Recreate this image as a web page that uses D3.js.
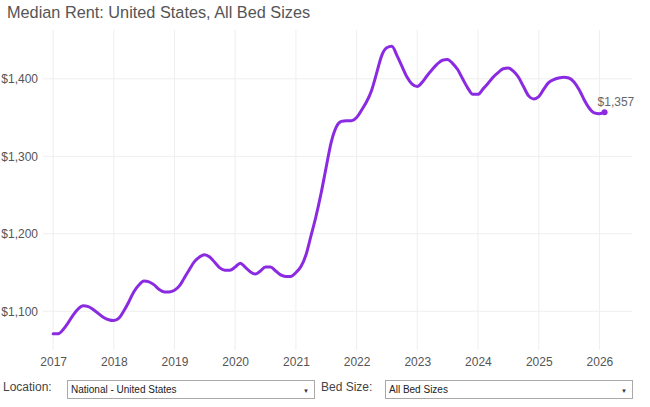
<!DOCTYPE html>
<html>
<head>
  <meta charset="UTF-8">
  <title>Median Rent: United States, All Bed Sizes</title>
  <script src="https://d3js.org/d3.v7.min.js"></script>
  <style>
    body { margin: 0; background: #fff; font-family: "Liberation Sans", Arial, sans-serif; }
    .title { font-size: 16.3px; fill: #555; }
    .tick-label { font-size: 12px; fill: #555; }
    .grid line { stroke: #eeeeee; stroke-width: 1; }
    .ctrl-label { font-size: 12px; fill: #444; }
    .ctrl-text { font-size: 10px; fill: #222; }
  </style>
</head>
<body>
  <div id="chart"></div>
  <script>
    // monthly median rent, Jan 2017 .. Feb 2026
    var startYear = 2017;
    var rent2017 = [1071, 1071, 1076, 1085, 1095, 1103, 1107, 1106, 1102, 1097, 1092, 1089];
    var rent2018 = [1088, 1091, 1100, 1112, 1125, 1134, 1139, 1138, 1134, 1128, 1125, 1125];
    var rent2019 = [1127, 1133, 1143, 1154, 1164, 1170, 1173, 1170, 1163, 1156, 1153, 1153];
    var rent2020 = [1157, 1162, 1157, 1151, 1148, 1152, 1157, 1157, 1152, 1147, 1145, 1145];
    var rent2021 = [1150, 1158, 1172, 1197, 1222, 1252, 1285, 1318, 1338, 1345, 1346, 1346];
    var rent2022 = [1350, 1360, 1370, 1385, 1407, 1430, 1440, 1442, 1430, 1416, 1402, 1393];
    var rent2023 = [1390, 1396, 1404, 1412, 1419, 1424, 1425, 1420, 1412, 1400, 1388, 1380];
    var rent2024 = [1380, 1387, 1394, 1402, 1408, 1413, 1414, 1410, 1402, 1390, 1378, 1374];
    var rent2025 = [1377, 1387, 1395, 1399, 1401, 1402, 1401, 1396, 1386, 1373, 1362, 1356];
    var rent2026 = [1355, 1357];
    var yTicks = [1100, 1200, 1300, 1400];
    var xTickYears = [2017, 2018, 2019, 2020, 2021, 2022, 2023, 2024, 2025, 2026];
    var locationOption = "National - United States";
    var bedOption = "All Bed Sizes";

    var values = [].concat(rent2017, rent2018, rent2019, rent2020, rent2021,
      rent2022, rent2023, rent2024, rent2025, rent2026);
    var data = values.map(function (v, i) {
      return { date: new Date(startYear, i, 1), value: v };
    });

    var width = 650, height = 407;
    var svg = d3.select("#chart").append("svg")
      .attr("width", width)
      .attr("height", height);

    var x = d3.scaleTime()
      .domain([new Date(2016, 10, 1), new Date(2026, 6, 16)])
      .range([43, 632]);
    var y = d3.scaleLinear()
      .domain([1050, 1463])
      .range([350, 30]);

    svg.append("text")
      .attr("class", "title")
      .attr("x", 7)
      .attr("y", 18)
      .text("Median Rent: United States, All Bed Sizes");

    // grid
    var grid = svg.append("g").attr("class", "grid");
    grid.selectAll(".v").data(xTickYears).enter().append("line")
      .attr("x1", function (d) { return x(new Date(d, 0, 1)); })
      .attr("x2", function (d) { return x(new Date(d, 0, 1)); })
      .attr("y1", 30).attr("y2", 350);
    grid.selectAll(".h").data(yTicks).enter().append("line")
      .attr("x1", 43).attr("x2", 632)
      .attr("y1", function (d) { return y(d); })
      .attr("y2", function (d) { return y(d); });

    // axes as labels
    var yAxis = svg.append("g")
      .attr("transform", "translate(43,0)")
      .call(d3.axisLeft(y).tickValues(yTicks).tickSize(0).tickPadding(5)
        .tickFormat(function (d) { return "$" + d3.format(",")(d); }));
    yAxis.select(".domain").remove();
    yAxis.selectAll("text").attr("class", "tick-label").attr("fill", null)
      .style("font-family", "Liberation Sans, Arial, sans-serif");

    var xAxis = svg.append("g")
      .attr("transform", "translate(0,350)")
      .call(d3.axisBottom(x)
        .tickValues(xTickYears.map(function (d) { return new Date(d, 0, 1); }))
        .tickSize(0).tickPadding(7)
        .tickFormat(d3.timeFormat("%Y")));
    xAxis.select(".domain").remove();
    xAxis.selectAll("text").attr("class", "tick-label").attr("fill", null)
      .style("font-family", "Liberation Sans, Arial, sans-serif");

    // line
    var line = d3.line()
      .x(function (d) { return x(d.date); })
      .y(function (d) { return y(d.value); })
      .curve(d3.curveMonotoneX);

    svg.append("path")
      .datum(data)
      .attr("fill", "none")
      .attr("stroke", "#8a2be2")
      .attr("stroke-width", 3)
      .attr("stroke-linejoin", "round")
      .attr("stroke-linecap", "round")
      .attr("d", line);

    var last = data[data.length - 1];
    svg.append("circle")
      .attr("cx", x(last.date))
      .attr("cy", y(last.value))
      .attr("r", 3)
      .attr("fill", "#8a2be2");
    svg.append("text")
      .attr("x", x(last.date) - 7)
      .attr("y", y(last.value) - 6)
      .attr("font-size", 12)
      .attr("fill", "#666")
      .text("$" + d3.format(",")(last.value));

    // controls
    function dropdown(labelText, lx, bx, bw, option) {
      var g = svg.append("g");
      g.append("text").attr("class", "ctrl-label")
        .attr("x", lx).attr("y", 391).text(labelText);
      g.append("rect")
        .attr("x", bx + 0.5).attr("y", 380.5)
        .attr("width", bw).attr("height", 18)
        .attr("fill", "#fff").attr("stroke", "#a9a9a9");
      g.append("text").attr("class", "ctrl-text")
        .attr("x", bx + 4).attr("y", 393).text(option);
      g.append("text")
        .attr("x", bx + bw - 11).attr("y", 393)
        .attr("font-size", 6).attr("fill", "#333").text("\u25BC");
    }
    dropdown("Location:", 3, 67, 247, locationOption);
    dropdown("Bed Size:", 321, 385, 247, bedOption);
  </script>
</body>
</html>
